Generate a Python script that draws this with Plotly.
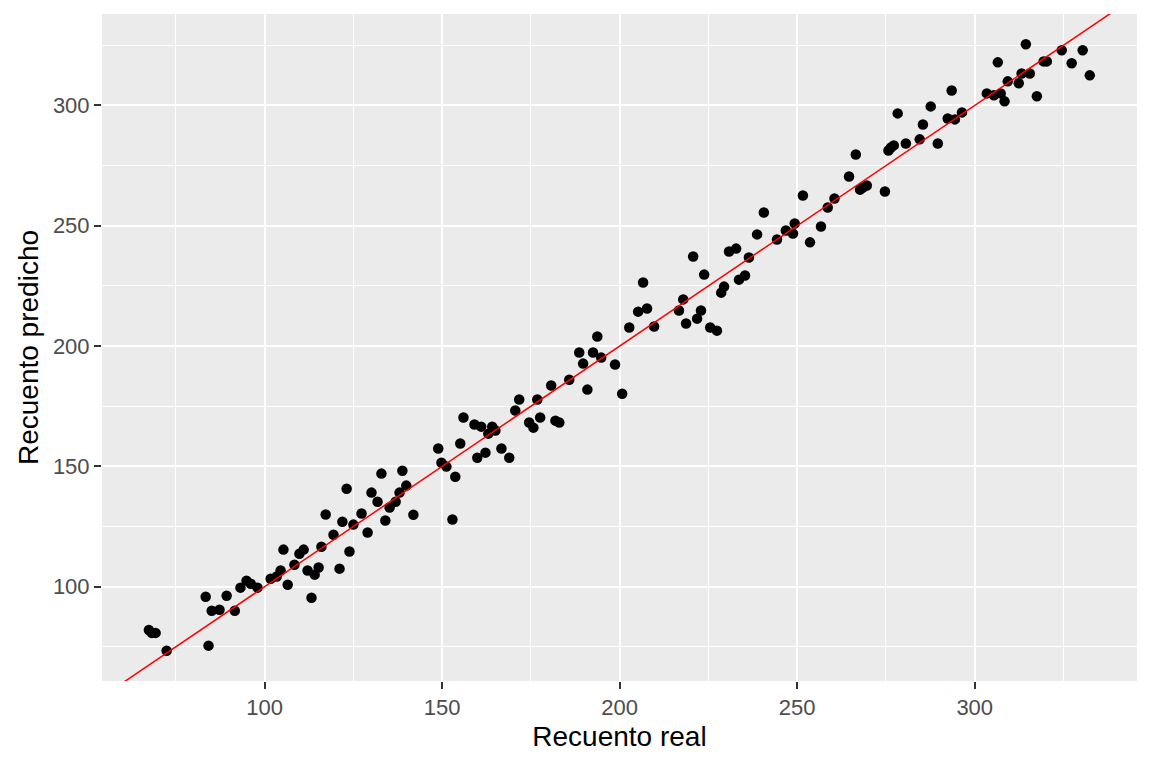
import plotly.graph_objects as go

real = [67.4, 68.2, 69.3, 72.4, 83.4, 84.2, 85.1, 87.3, 89.3, 91.6,
        93.2, 94.9, 96.1, 98.0, 101.7, 103.4, 104.5, 105.3, 106.5, 108.4,
        109.8, 111.0, 112.1, 113.2, 114.1, 115.2, 116.0, 117.2, 119.4, 121.1,
        121.9, 123.1, 123.9, 125.0, 127.3, 129.0, 130.1, 131.8, 132.9, 134.0,
        135.2, 136.9, 138.0, 138.8, 139.9, 141.9, 148.9, 149.8, 151.2, 152.9,
        153.7, 155.1, 156.0, 159.1, 159.9, 161.0, 162.2, 163.0, 164.1, 165.0,
        166.7, 168.9, 170.6, 171.7, 174.5, 175.7, 176.8, 177.6, 180.7, 181.9,
        183.0, 185.8, 188.6, 189.7, 190.9, 192.5, 193.7, 194.8, 198.7, 200.7,
        202.7, 205.2, 206.6, 207.7, 209.7, 216.7, 217.9, 218.7, 220.7, 221.8,
        222.9, 223.8, 225.5, 227.4, 228.6, 229.4, 230.8, 232.8, 233.6, 235.3,
        236.4, 238.7, 240.6, 244.3, 246.8, 248.8, 249.3, 251.6, 253.6, 256.7,
        258.6, 260.5, 264.6, 266.5, 267.7, 268.5, 269.6, 274.7, 275.7, 276.4,
        277.2, 278.3, 280.6, 284.5, 285.4, 287.6, 289.6, 292.4, 293.5, 294.4,
        296.4, 303.4, 305.4, 306.5, 307.3, 308.4, 309.3, 312.4, 313.2, 314.4,
        315.5, 317.5, 319.4, 320.3, 324.5, 327.3, 330.4, 332.4]

predicho = [82.0, 80.8, 80.8, 73.4, 95.8, 75.5, 90.0, 90.4, 96.2, 90.0,
            99.6, 102.5, 101.2, 99.6, 103.3, 104.2, 106.7, 115.4, 100.8, 109.1,
            113.7, 115.4, 106.7, 95.4, 105.0, 108.0, 116.6, 130.0, 121.6, 107.5,
            127.0, 140.7, 114.6, 125.8, 130.4, 122.5, 139.1, 135.3, 147.0, 127.5,
            132.9, 135.3, 139.1, 148.2, 142.0, 129.9, 157.4, 151.5, 149.9, 127.9,
            145.7, 159.5, 170.3, 167.4, 153.6, 166.5, 155.7, 163.6, 166.5, 164.9,
            157.4, 153.6, 173.2, 177.8, 168.2, 166.1, 177.8, 170.3, 183.6, 169.0,
            168.2, 186.0, 197.3, 192.7, 181.9, 197.3, 204.0, 195.2, 192.3, 180.2,
            207.7, 214.3, 226.4, 215.6, 208.1, 214.8, 219.4, 209.4, 237.2, 211.4,
            214.8, 229.7, 207.7, 206.4, 222.2, 224.7, 239.3, 240.5, 227.6, 229.3,
            236.8, 246.4, 255.5, 244.3, 248.0, 246.8, 250.9, 262.6, 243.1, 249.7,
            257.6, 261.3, 270.5, 279.6, 265.0, 265.9, 266.7, 264.2, 281.3, 282.5,
            283.4, 296.7, 284.2, 285.9, 292.1, 299.6, 284.2, 294.6, 306.2, 294.2,
            297.1, 305.0, 304.2, 317.9, 305.0, 301.7, 310.0, 309.2, 313.3, 325.4,
            313.3, 303.8, 318.3, 318.3, 322.9, 317.5, 322.9, 312.5]

tick_vals = [100, 150, 200, 250, 300]
minor_vals = [75, 125, 175, 225, 275, 325]
x_range = [54.2, 345.7]
y_range = [60.8, 338.0]
intercept = 0
slope = 1

fig = go.Figure()
fig.add_trace(go.Scatter(
    x=real, y=predicho, mode="markers",
    marker=dict(color="black", size=10.5, line=dict(width=0)),
    showlegend=False, hoverinfo="x+y"))
fig.add_trace(go.Scatter(
    x=x_range, y=[intercept + slope * v for v in x_range], mode="lines",
    line=dict(color="#FF0000", width=1.5), showlegend=False, hoverinfo="skip"))

axis_common = dict(
    showgrid=True, gridcolor="white", gridwidth=2,
    zeroline=False, showline=False, automargin=False,
    ticks="outside", ticklen=7, tickwidth=2, tickcolor="#333333",
    tickvals=tick_vals,
    minor=dict(tickvals=minor_vals, showgrid=True,
               gridcolor="white", gridwidth=1, ticks=""),
    tickfont=dict(family="Liberation Sans, Arial", size=22, color="#4D4D4D"),
    title_font=dict(family="Liberation Sans, Arial", size=28, color="black"),
)

fig.update_xaxes(range=x_range, title_text="Recuento real",
                 title_standoff=6, **axis_common)
fig.update_yaxes(range=y_range, title_text="Recuento predicho",
                 title_standoff=6, **axis_common)

fig.update_layout(
    width=1152, height=768,
    margin=dict(l=102, r=15, t=14, b=87),
    plot_bgcolor="#EBEBEB", paper_bgcolor="white",
)

fig.write_html("out.html",
               config={"displayModeBar": False},
               post_script="document.body.style.margin='0px';"
                           "document.body.style.overflow='hidden';")
